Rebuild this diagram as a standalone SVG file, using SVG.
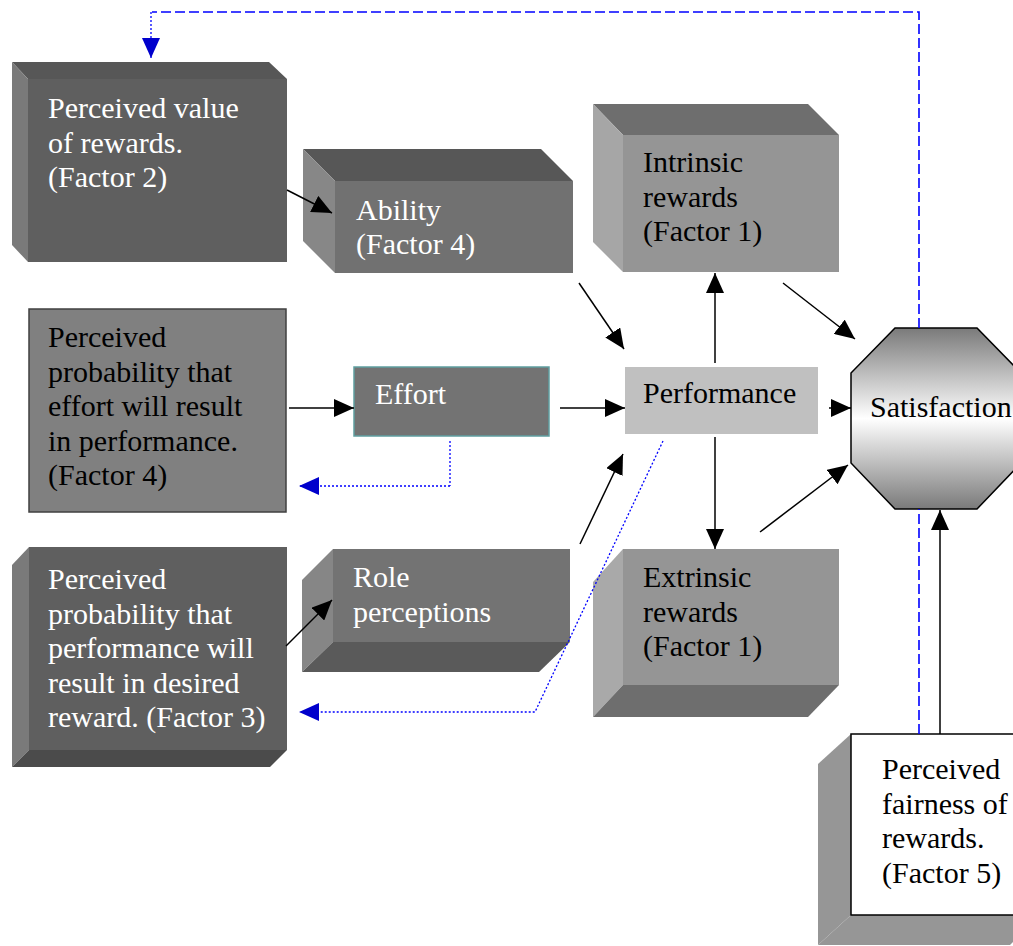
<svg xmlns="http://www.w3.org/2000/svg" width="1013" height="946" viewBox="0 0 1013 946">
  <style>
    text { font-family: "Liberation Serif", "Times New Roman", serif; font-size: 30px; }
    .lt { fill: #ffffff; }
    .dk { fill: #000000; }
    .arrow { fill: none; stroke: #000000; stroke-width: 1.5; marker-end: url(#head); }
    .dash { fill: none; stroke: #0000ff; stroke-width: 1.6; stroke-dasharray: 10 4; }
    .dot { fill: none; stroke: #0000ff; stroke-width: 1.3; stroke-dasharray: 2 2; }
    .dotarrow { fill: none; stroke: #0000ff; stroke-width: 1.3; stroke-dasharray: 2 2; marker-end: url(#bhead); }
  </style>
  <defs>
    <marker id="head" viewBox="0 0 20 18" refX="20" refY="9" markerWidth="20" markerHeight="18" markerUnits="userSpaceOnUse" orient="auto">
      <path d="M0,0 L20,9 L0,18 z" fill="#000000"/>
    </marker>
    <marker id="bhead" viewBox="0 0 20 18" refX="20" refY="9" markerWidth="20" markerHeight="18" markerUnits="userSpaceOnUse" orient="auto">
      <path d="M0,0 L20,9 L0,18 z" fill="#0000cc"/>
    </marker>
    <linearGradient id="satGrad" x1="0" y1="0" x2="0" y2="1">
      <stop offset="0" stop-color="#7a7a7a"/>
      <stop offset="0.5" stop-color="#ffffff"/>
      <stop offset="1" stop-color="#7a7a7a"/>
    </linearGradient>
  </defs>

  <!-- Perceived value of rewards -->
  <g id="value">
    <polygon points="12,62 269,62 287,79 28,79" fill="#575757"/>
    <polygon points="12,62 28,79 28,262 12,245" fill="#7a7a7a"/>
    <rect x="28" y="79" width="259" height="183" fill="#5f5f5f"/>
    <text class="lt" x="48" y="118">Perceived value</text>
    <text class="lt" x="48" y="152.5">of rewards.</text>
    <text class="lt" x="48" y="187">(Factor 2)</text>
  </g>

  <!-- Ability -->
  <g id="ability">
    <polygon points="303,149 541,149 573,181 335,181" fill="#575757"/>
    <polygon points="303,149 335,181 335,273 303,241" fill="#878787"/>
    <rect x="335" y="181" width="238" height="92" fill="#717171"/>
    <text class="lt" x="356" y="220">Ability</text>
    <text class="lt" x="356" y="254">(Factor 4)</text>
  </g>

  <!-- Intrinsic rewards -->
  <g id="intrinsic">
    <polygon points="593,104 808,104 839,135 623,135" fill="#6e6e6e"/>
    <polygon points="593,104 623,135 623,272 593,242" fill="#a6a6a6"/>
    <rect x="623" y="135" width="216" height="137" fill="#959595"/>
    <text class="dk" x="643" y="172">Intrinsic</text>
    <text class="dk" x="643" y="206.5">rewards</text>
    <text class="dk" x="643" y="241">(Factor 1)</text>
  </g>

  <!-- Perceived probability: effort -> performance -->
  <g id="prob-effort">
    <rect x="29" y="309" width="257" height="203" fill="#808080" stroke="#404040" stroke-width="1.5"/>
    <text class="dk" x="48" y="347">Perceived</text>
    <text class="dk" x="48" y="381.5">probability that</text>
    <text class="dk" x="48" y="416">effort will result</text>
    <text class="dk" x="48" y="450.5">in performance.</text>
    <text class="dk" x="48" y="485">(Factor 4)</text>
  </g>

  <!-- Effort -->
  <g id="effort">
    <rect x="354" y="367" width="195" height="69" fill="#737373" stroke="#5f9ea0" stroke-width="1.5"/>
    <text class="lt" x="375" y="404">Effort</text>
  </g>

  <!-- Performance -->
  <g id="performance">
    <rect x="625" y="367" width="193" height="67" fill="#c0c0c0"/>
    <text class="dk" x="643" y="403">Performance</text>
  </g>

  <!-- Perceived probability: performance -> reward -->
  <g id="prob-reward">
    <polygon points="29,547 12,565 12,767 29,750" fill="#7a7a7a"/>
    <polygon points="29,750 287,750 270,767 12,767" fill="#4b4b4b"/>
    <rect x="29" y="547" width="258" height="203" fill="#5f5f5f"/>
    <text class="lt" x="48" y="589">Perceived</text>
    <text class="lt" x="48" y="623.5">probability that</text>
    <text class="lt" x="48" y="658">performance will</text>
    <text class="lt" x="48" y="692.5">result in desired</text>
    <text class="lt" x="48" y="727">reward. (Factor 3)</text>
  </g>

  <!-- Role perceptions -->
  <g id="role">
    <polygon points="333,549 302,580 302,672 333,642" fill="#868686"/>
    <polygon points="333,642 570,642 539,672 302,672" fill="#5a5a5a"/>
    <rect x="333" y="549" width="237" height="93" fill="#737373"/>
    <text class="lt" x="353" y="587">Role</text>
    <text class="lt" x="353" y="621.5">perceptions</text>
  </g>

  <!-- Extrinsic rewards -->
  <g id="extrinsic">
    <polygon points="623,549 593,582 593,717 623,685" fill="#a9a9a9"/>
    <polygon points="623,685 839,685 808,717 593,717" fill="#6e6e6e"/>
    <rect x="623" y="549" width="216" height="136" fill="#959595"/>
    <text class="dk" x="643" y="587">Extrinsic</text>
    <text class="dk" x="643" y="621.5">rewards</text>
    <text class="dk" x="643" y="656">(Factor 1)</text>
  </g>

  <!-- Satisfaction -->
  <g id="satisfaction">
    <polygon points="895,328 977,328 1021,373 1021,463 977,509 895,509 851,463 851,373" fill="url(#satGrad)" stroke="#000000" stroke-width="1.5"/>
    <text class="dk" x="870" y="417">Satisfaction</text>
  </g>

  <!-- Perceived fairness of rewards -->
  <g id="fairness">
    <polygon points="851,734 818,764 818,945 851,915" fill="#969696"/>
    <polygon points="851,915 1040,915 1010,945 818,945" fill="#969696"/>
    <rect x="851" y="734" width="190" height="181" fill="#ffffff" stroke="#000000" stroke-width="1.5"/>
    <text class="dk" x="882" y="779">Perceived</text>
    <text class="dk" x="882" y="813.5">fairness of</text>
    <text class="dk" x="882" y="848">rewards.</text>
    <text class="dk" x="882" y="882.5">(Factor 5)</text>
  </g>

  <!-- Connectors -->
  <g id="connectors">
    <path class="arrow" d="M287,190 L332,213"/>
    <path class="arrow" d="M579,283 L624,349"/>
    <path class="arrow" d="M289,408 L354,408"/>
    <path class="arrow" d="M560,408 L625,408"/>
    <path class="arrow" d="M580,544 L623,454"/>
    <path class="arrow" d="M286,646 L332,600"/>
    <path class="arrow" d="M715,363 L715,273"/>
    <path class="arrow" d="M715,437 L715,549"/>
    <path class="arrow" d="M783,283 L855,339"/>
    <path class="arrow" d="M829,408 L851,408"/>
    <path class="arrow" d="M760,532 L848,465"/>
    <path class="arrow" d="M940,734 L940,510"/>

    <!-- feedback from satisfaction to perceived value -->
    <path class="dash" d="M919,734 V509 M919,328 V12 H152"/>
    <path class="dotarrow" d="M151,12 V58"/>
    <!-- feedback from effort -->
    <path class="dot" d="M450,441 V486"/>
    <path class="dotarrow" d="M450,486 H299"/>
    <!-- feedback from performance -->
    <path class="dotarrow" d="M663,441 L535,712 H299"/>
  </g>
</svg>
